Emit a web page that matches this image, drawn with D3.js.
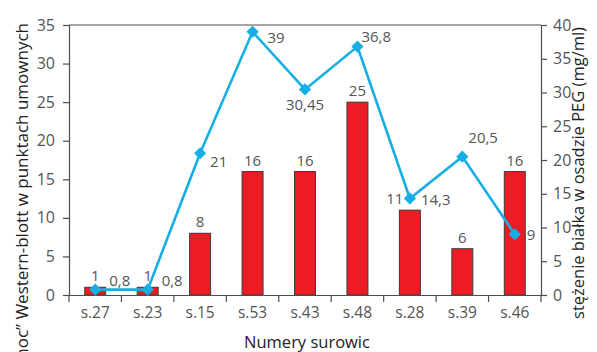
<!DOCTYPE html>
<html>
<head>
<meta charset="utf-8">
<script src="https://cdn.jsdelivr.net/npm/d3@7"></script>
<style>
  html, body { margin: 0; padding: 0; background: #fff; }
  svg { display: block; }
  text { font-family: "Open Sans", "Noto Sans", sans-serif; }
</style>
</head>
<body>
<svg id="chart" width="597" height="352"></svg>
<script>
// Serum samples
const categories = ["s.27", "s.23", "s.15", "s.53", "s.43", "s.48", "s.28", "s.39", "s.46"];
// Western-blott strength (arbitrary units) – bars, left axis
const westernBlott = [1, 1, 8, 16, 16, 25, 11, 6, 16];
// Protein concentration in PEG precipitate (mg/ml) – line, right axis
const proteinPEG = [0.8, 0.8, 21, 39, 30.45, 36.8, 14.3, 20.5, 9];
const proteinLabels = ["0,8", "0,8", "21", "39", "30,45", "36,8", "14,3", "20,5", "9"];
const leftTicks = [0, 5, 10, 15, 20, 25, 30, 35];
const rightTicks = [0, 5, 10, 15, 20, 25, 30, 35, 40];

// label placement for line values: [dx, dy] from the point
const lineLabelOffset = [
  [14, -4], [14, -4], [10, 14], [15, 11], [0, 21], [4, -5], [11, 7], [6, -14], [12, 6]
];
const lineLabelAnchor = ["start", "start", "start", "start", "middle", "start", "start", "start", "start"];
// horizontal nudge for bar value labels
const barLabelDx = [0, 0, 0, 0, 0, 0, -15, 0, 0];

const svg = d3.select("#chart");
const m = { left: 69, right: 541, top: 25, bottom: 295 };

const x = d3.scaleBand().domain(categories).range([m.left, m.right]).paddingInner(0).paddingOuter(0);
const yL = d3.scaleLinear().domain([0, 35]).range([m.bottom, m.top]);
const yR = d3.scaleLinear().domain([0, 40]).range([m.bottom, m.top]);

const axisColor = "#4d4d4d";
const textColor = "#555";

// top frame line
svg.append("line")
  .attr("x1", m.left).attr("x2", m.right)
  .attr("y1", m.top).attr("y2", m.top)
  .attr("stroke", axisColor).attr("stroke-width", 1.2);

// bars
const barW = x.bandwidth() * 0.4;
svg.append("g").selectAll("rect").data(westernBlott).join("rect")
  .attr("x", (d, i) => x(categories[i]) + x.bandwidth() / 2 - barW / 2)
  .attr("y", d => yL(d))
  .attr("width", barW)
  .attr("height", d => yL(0) - yL(d))
  .attr("fill", "#ed1c24")
  .attr("stroke", "#3a3a3a")
  .attr("stroke-width", 1);

// bar value labels
svg.append("g").selectAll("text").data(westernBlott).join("text")
  .attr("x", (d, i) => x(categories[i]) + x.bandwidth() / 2 + barLabelDx[i])
  .attr("y", d => yL(d) - 6)
  .attr("text-anchor", "middle")
  .attr("fill", textColor)
  .attr("font-size", 15)
  .text(d => d);

// left axis
const gL = svg.append("g").attr("transform", `translate(${m.left},0)`)
  .call(d3.axisLeft(yL).tickValues(leftTicks).tickSize(6).tickPadding(8).tickFormat(d3.format("d")));
// right axis
const gR = svg.append("g").attr("transform", `translate(${m.right},0)`)
  .call(d3.axisRight(yR).tickValues(rightTicks).tickSize(6).tickPadding(6).tickFormat(d3.format("d")));
// bottom axis with ticks at band boundaries
const gB = svg.append("g").attr("transform", `translate(0,${m.bottom})`)
  .call(d3.axisBottom(x).tickSize(0).tickPadding(12));
gB.selectAll(".tick-sep").data(d3.range(categories.length + 1)).join("line")
  .attr("class", "tick-sep")
  .attr("x1", i => m.left + i * x.step()).attr("x2", i => m.left + i * x.step())
  .attr("y1", 0).attr("y2", 7)
  .attr("stroke", axisColor).attr("stroke-width", 1.2);

[gL, gR, gB].forEach(g => {
  g.select(".domain").attr("stroke", axisColor).attr("stroke-width", 1.2);
  g.selectAll(".tick line").attr("stroke", axisColor).attr("stroke-width", 1.2);
  g.selectAll(".tick text").attr("fill", textColor).attr("font-size", 16)
    .attr("font-family", "'Open Sans', 'Noto Sans', sans-serif");
});
gB.selectAll(".tick text").attr("font-size", 15.5);

// protein concentration line
const cx = (i) => x(categories[i]) + x.bandwidth() / 2;
const line = d3.line().x((d, i) => cx(i)).y(d => yR(d));
svg.append("path").datum(proteinPEG)
  .attr("d", line)
  .attr("fill", "none")
  .attr("stroke", "#16aee6")
  .attr("stroke-width", 2.6);

svg.append("g").selectAll("path").data(proteinPEG).join("path")
  .attr("d", d3.symbol().type(d3.symbolDiamond2).size(95))
  .attr("transform", (d, i) => `translate(${cx(i)},${yR(d)})`)
  .attr("fill", "#16aee6");

svg.append("g").selectAll("text").data(proteinPEG).join("text")
  .attr("x", (d, i) => cx(i) + lineLabelOffset[i][0])
  .attr("y", (d, i) => yR(d) + lineLabelOffset[i][1])
  .attr("text-anchor", (d, i) => lineLabelAnchor[i])
  .attr("fill", textColor)
  .attr("font-size", 15)
  .text((d, i) => proteinLabels[i]);

// axis titles
svg.append("text")
  .attr("x", 307).attr("y", 348)
  .attr("text-anchor", "middle")
  .attr("fill", "#222")
  .attr("font-size", 16.5)
  .text("Numery surowic");

svg.append("text")
  .attr("transform", "translate(28,23) rotate(-90)")
  .attr("text-anchor", "end")
  .attr("fill", "#222")
  .attr("font-size", 17)
  .text("„moc” Western-blott w punktach umownych");

svg.append("text")
  .attr("transform", "translate(584,173) rotate(-90)")
  .attr("text-anchor", "middle")
  .attr("fill", "#222")
  .attr("font-size", 16.5)
  .text("stężenie białka w osadzie PEG (mg/ml)");
</script>
</body>
</html>
